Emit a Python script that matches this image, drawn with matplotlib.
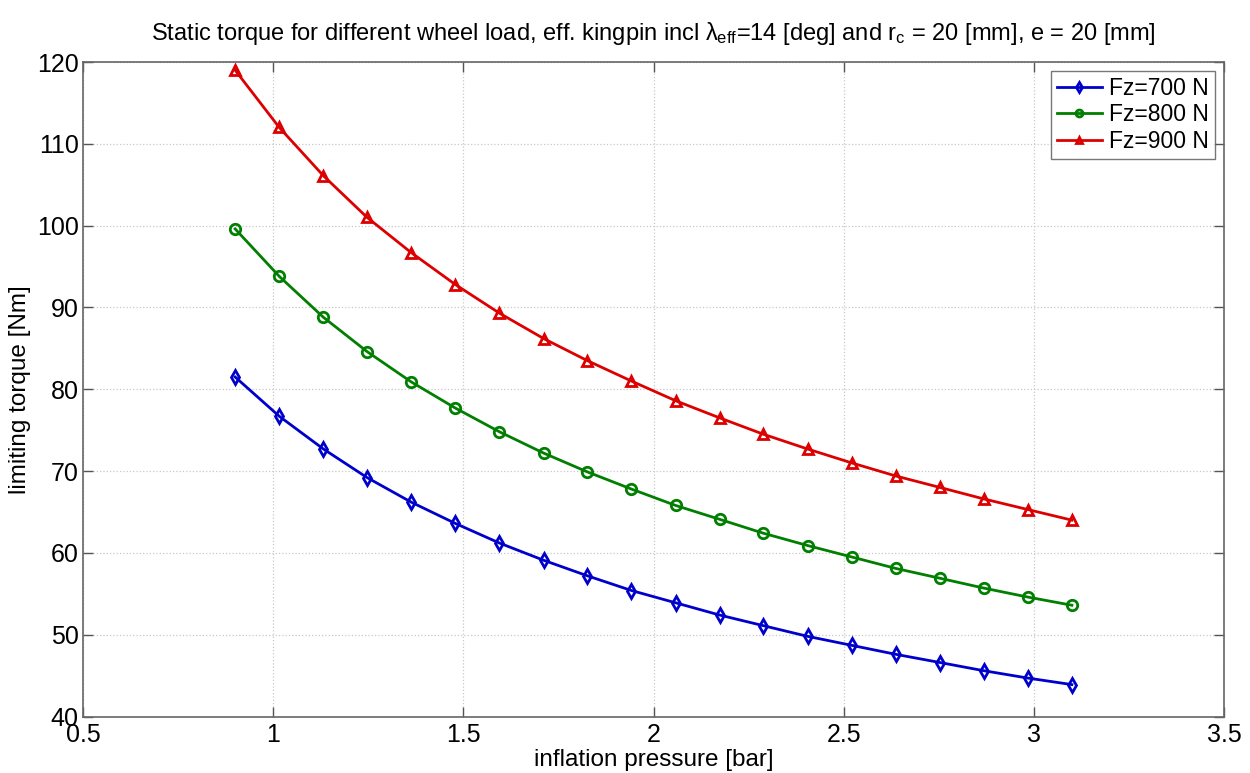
import matplotlib
matplotlib.use("Agg")
import matplotlib.pyplot as plt

plt.rcParams['font.family'] = ['Liberation Sans', 'DejaVu Sans']
plt.rcParams['mathtext.fontset'] = 'custom'
plt.rcParams['mathtext.rm'] = 'Liberation Sans'
plt.rcParams['mathtext.it'] = 'Liberation Sans'
plt.rcParams['mathtext.sf'] = 'Liberation Sans'

# inflation pressure [bar]
pressure = [0.900, 1.016, 1.132, 1.247, 1.363, 1.479, 1.595, 1.711, 1.826, 1.942,
            2.058, 2.174, 2.289, 2.405, 2.521, 2.637, 2.753, 2.868, 2.984, 3.100]

# limiting torque [Nm] per wheel load
torque_700 = [81.5, 76.7, 72.7, 69.2, 66.2, 63.6, 61.2, 59.1, 57.2, 55.4,
              53.9, 52.4, 51.1, 49.8, 48.7, 47.6, 46.6, 45.6, 44.7, 43.9]
torque_800 = [99.6, 93.8, 88.8, 84.6, 80.9, 77.7, 74.8, 72.2, 69.9, 67.8,
              65.8, 64.1, 62.4, 60.9, 59.5, 58.1, 56.9, 55.7, 54.6, 53.6]
torque_900 = [119.0, 112.0, 106.1, 101.0, 96.7, 92.8, 89.3, 86.2, 83.5, 81.0,
              78.6, 76.5, 74.5, 72.7, 71.0, 69.4, 68.0, 66.6, 65.3, 64.0]

labels = ['Fz=700 N', 'Fz=800 N', 'Fz=900 N']
x_ticks = [0.5, 1, 1.5, 2, 2.5, 3, 3.5]
x_tick_labels = ['0.5', '1', '1.5', '2', '2.5', '3', '3.5']
y_ticks = [40, 50, 60, 70, 80, 90, 100, 110, 120]

fig = plt.figure(figsize=(12.5, 7.73), dpi=100)
ax_h = 716.5 - 62
ax = fig.add_axes([83 / 1250, 1 - 716.5 / 773, (1224 - 83) / 1250, ax_h / 773])

series = [
    (torque_700, '#0000cc', 'd'),
    (torque_800, '#007f00', 'o'),
    (torque_900, '#dd0000', '^'),
]
for (vals, color, marker), lab in zip(series, labels):
    ax.plot(pressure, vals, color=color, lw=2, marker=marker, ms=7.5,
            mfc='none', mec=color, mew=2, label=lab)

ax.set_xlim(0.5, 3.5)
ax.set_ylim(40, 120)
ax.set_xticks(x_ticks)
ax.set_xticklabels(x_tick_labels)
ax.set_yticks(y_ticks)
ax.tick_params(direction='in', length=7, width=1, colors='#555555',
               labelcolor='black', labelsize=18, top=True, right=True)
ax.tick_params(axis='y', pad=3)
ax.tick_params(axis='x', pad=5)
ax.grid(True, color='#c8c8c8', linestyle=':', linewidth=0.9)
for s in ax.spines.values():
    s.set_color('#666666')
    s.set_linewidth(1.2)

ax.set_xlabel('inflation pressure [bar]', fontsize=17.5, va='baseline')
ax.xaxis.set_label_coords(0.5, -(766 - 716.5) / ax_h)
ax.set_ylabel('limiting torque [Nm]', fontsize=17.5, labelpad=4)
ax.set_title(r'Static torque for different wheel load, eff. kingpin incl $\lambda_{\mathrm{eff}}$=14 [deg] and r$_{\mathrm{c}}$ = 20 [mm], e = 20 [mm]',
             fontsize=17, pad=16)

leg = ax.legend(loc='upper right', fontsize=16.5, frameon=True, fancybox=False,
                borderpad=0.25, labelspacing=0.15, handlelength=2.0, handletextpad=0.3,
                borderaxespad=0.4)
leg.get_frame().set_edgecolor('#555555')
leg.get_frame().set_linewidth(1.0)
for h in leg.legend_handles:
    h.set_markersize(5)

fig.savefig('out.png', dpi=100)
